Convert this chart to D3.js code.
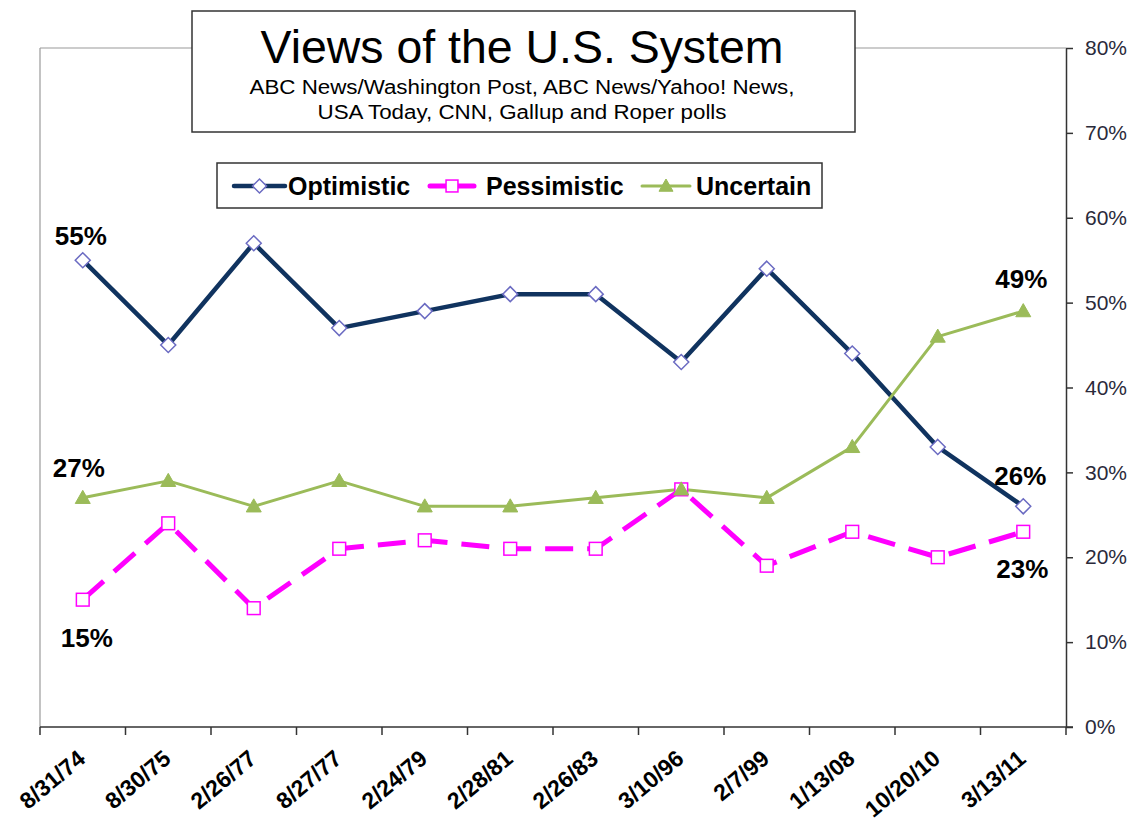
<!DOCTYPE html>
<html>
<head>
<meta charset="utf-8">
<script src="https://cdn.jsdelivr.net/npm/d3@7"></script>
<style>
  html, body { margin: 0; padding: 0; background: #fff; }
  svg { display: block; }
  text { font-family: "Liberation Sans", Arial, sans-serif; }
</style>
</head>
<body>
<svg id="chart" width="1137" height="823"></svg>
<script>
const categories = ["8/31/74","8/30/75","2/26/77","8/27/77","2/24/79","2/28/81","2/26/83","3/10/96","2/7/99","1/13/08","10/20/10","3/13/11"];
const optimistic  = [55,45,57,47,49,51,51,43,54,44,33,26];
const pessimistic = [15,24,14,21,22,21,21,28,19,23,20,23];
const uncertain   = [27,29,26,29,26,26,27,28,27,33,46,49];
const yTicks = [0,10,20,30,40,50,60,70,80];
const seriesNames = ["Optimistic","Pessimistic","Uncertain"];
const titleText = "Views of the U.S. System";
const subtitleLines = ["ABC News/Washington Post, ABC News/Yahoo! News,", "USA Today, CNN, Gallup and Roper polls"];
// annotations: series index, point index, dx, dy
const annotations = [
  {s:0, i:0, dx:-2, dy:-15},
  {s:2, i:0, dx:-4, dy:-21},
  {s:1, i:0, dx:4,  dy:47},
  {s:2, i:11, dx:-2, dy:-23},
  {s:0, i:11, dx:-3, dy:-21},
  {s:1, i:11, dx:-1, dy:46}
];

const seriesData = [optimistic, pessimistic, uncertain];
const styles = [
  {color:"#10335F", width:4.5, dash:null, marker:"diamond", mStroke:"#6B6BC2", mFill:"#fff"},
  {color:"#FF00FF", width:5, dash:"28,14", marker:"square", mStroke:"#FF00FF", mFill:"#fff"},
  {color:"#9BBB59", width:3, dash:null, marker:"triangle", mStroke:"#9BBB59", mFill:"#9BBB59"}
];

const svg = d3.select("#chart");
const L = 40, R = 1066, T = 48, B = 727;

const x = d3.scaleBand().domain(categories).range([L, R]).padding(0);
const cx = d => x(d) + x.bandwidth()/2;
const y = d3.scaleLinear().domain([0, 80]).range([B, T]);

// frame (left & top gray)
svg.append("line").attr("x1", L).attr("x2", L).attr("y1", T).attr("y2", B).attr("stroke", "#9a9a9a").attr("stroke-width", 1.2);
svg.append("line").attr("x1", L).attr("x2", R).attr("y1", T).attr("y2", T).attr("stroke", "#9a9a9a").attr("stroke-width", 1.2);

// right axis
const yAxis = d3.axisRight(y).tickValues(yTicks).tickFormat(d => d + "%").tickSize(7).tickSizeOuter(0);
const gy = svg.append("g").attr("transform", `translate(${R},0)`).call(yAxis);
gy.select(".domain").attr("stroke", "#333").attr("stroke-width", 1.5);
gy.selectAll(".tick line").attr("stroke", "#333").attr("stroke-width", 1.5);
gy.selectAll(".tick text").attr("x", 19).attr("font-size", 21).attr("fill", "#2a2a3a")
  .attr("font-family", "Liberation Sans, Arial, sans-serif");

// bottom axis
svg.append("line").attr("x1", L).attr("x2", R + 7).attr("y1", B).attr("y2", B).attr("stroke", "#333").attr("stroke-width", 1.5);
const tickPos = categories.map(c => x(c)).concat([R]);
svg.selectAll(".xtick").data(tickPos).enter().append("line")
  .attr("x1", d => d).attr("x2", d => d).attr("y1", B).attr("y2", B + 8)
  .attr("stroke", "#333").attr("stroke-width", 1.5);
svg.selectAll(".xlabel").data(categories).enter().append("text")
  .attr("transform", d => `translate(${cx(d) + 4},${B + 34}) rotate(-40)`)
  .attr("text-anchor", "end")
  .attr("font-size", 23).attr("font-weight", "bold").attr("fill", "#000")
  .text(d => d);

// lines
seriesData.forEach((vals, si) => {
  const st = styles[si];
  const line = d3.line().x((d, i) => cx(categories[i])).y(d => y(d));
  const p = svg.append("path").datum(vals).attr("d", line)
    .attr("fill", "none").attr("stroke", st.color).attr("stroke-width", st.width)
    .attr("stroke-linejoin", "round");
  if (st.dash) p.attr("stroke-dasharray", st.dash);
});

function drawMarker(g, type, px, py, st, size) {
  if (type === "diamond") {
    g.append("path").attr("d", `M${px},${py-size}L${px+size},${py}L${px},${py+size}L${px-size},${py}Z`)
      .attr("fill", st.mFill).attr("stroke", st.mStroke).attr("stroke-width", 1.5);
  } else if (type === "square") {
    const s = size * 0.85;
    g.append("rect").attr("x", px - s).attr("y", py - s).attr("width", 2*s).attr("height", 2*s)
      .attr("fill", st.mFill).attr("stroke", st.mStroke).attr("stroke-width", 1.5);
  } else {
    const s = size;
    g.append("path").attr("d", `M${px},${py-s}L${px+s},${py+s*0.75}L${px-s},${py+s*0.75}Z`)
      .attr("fill", st.mFill).attr("stroke", st.mStroke).attr("stroke-width", 1);
  }
}

seriesData.forEach((vals, si) => {
  const g = svg.append("g");
  vals.forEach((v, i) => drawMarker(g, styles[si].marker, cx(categories[i]), y(v), styles[si], 7.5));
});

// annotations
annotations.forEach(a => {
  const v = seriesData[a.s][a.i];
  svg.append("text").attr("x", cx(categories[a.i]) + a.dx).attr("y", y(v) + a.dy)
    .attr("text-anchor", "middle").attr("font-size", 26).attr("font-weight", "bold").attr("fill", "#000")
    .text(v + "%");
});

// title box
svg.append("rect").attr("x", 192).attr("y", 11).attr("width", 663).attr("height", 121)
  .attr("fill", "#fff").attr("stroke", "#333").attr("stroke-width", 1.5);
svg.append("text").attr("x", 522).attr("y", 63).attr("text-anchor", "middle")
  .attr("font-size", 46).attr("fill", "#000")
  .attr("textLength", 523).attr("lengthAdjust", "spacingAndGlyphs").text(titleText);
subtitleLines.forEach((t, i) => {
  svg.append("text").attr("x", 522).attr("y", 94 + i * 25).attr("text-anchor", "middle")
    .attr("font-size", 20).attr("fill", "#000")
    .attr("textLength", i === 0 ? 545 : 409).attr("lengthAdjust", "spacingAndGlyphs")
    .text(t);
});

// legend
svg.append("rect").attr("x", 217).attr("y", 163).attr("width", 605).attr("height", 45)
  .attr("fill", "#fff").attr("stroke", "#333").attr("stroke-width", 1.5);
const legItems = [
  {x1: 234, x2: 285, tx: 288},
  {x1: 430, x2: 474, tx: 486},
  {x1: 642, x2: 690, tx: 696}
];
const legY = 186;
seriesNames.forEach((n, si) => {
  const li = legItems[si], st = styles[si];
  svg.append("line").attr("x1", li.x1).attr("x2", li.x2).attr("y1", legY).attr("y2", legY)
    .attr("stroke", st.color).attr("stroke-width", st.width).attr("stroke-linecap", "round");
  drawMarker(svg, st.marker, (li.x1 + li.x2) / 2, legY, st, 7);
  svg.append("text").attr("x", li.tx).attr("y", legY + 9).attr("font-size", 25).attr("font-weight", "bold")
    .attr("fill", "#000").text(n);
});
</script>
</body>
</html>
